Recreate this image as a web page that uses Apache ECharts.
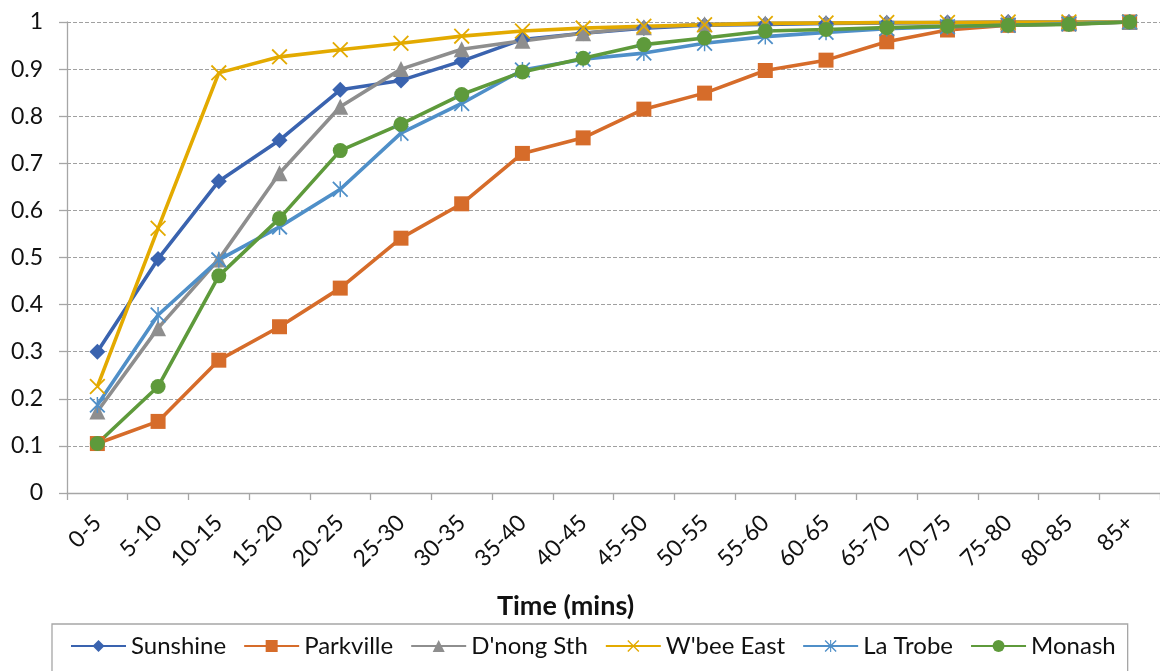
<!DOCTYPE html>
<html><head><meta charset="utf-8">
<script src="https://cdn.jsdelivr.net/npm/echarts@6/dist/echarts.min.js"></script>
<style>html,body{margin:0;padding:0;background:#fff}#c{width:1160px;height:671px}</style>
</head><body><div id="c"></div>
<script>
const categories = ['0-5','5-10','10-15','15-20','20-25','25-30','30-35','35-40','40-45','45-50','50-55','55-60','60-65','65-70','70-75','75-80','80-85','85+'];
const sunshine  = [0.300,0.497,0.662,0.749,0.856,0.876,0.917,0.963,0.976,0.987,0.993,0.995,0.997,0.998,0.999,1,1,1];
const parkville = [0.105,0.152,0.282,0.353,0.435,0.541,0.614,0.721,0.754,0.815,0.849,0.897,0.919,0.958,0.983,0.993,0.996,1];
const dnongSth  = [0.173,0.350,0.496,0.679,0.820,0.900,0.942,0.960,0.976,0.989,0.995,0.997,0.998,0.999,0.999,1,1,1];
const wbeeEast  = [0.226,0.562,0.892,0.926,0.941,0.955,0.970,0.981,0.987,0.991,0.994,0.997,0.998,0.999,0.999,1,1,1];
const laTrobe   = [0.187,0.378,0.495,0.565,0.645,0.764,0.827,0.898,0.921,0.934,0.955,0.969,0.978,0.986,0.990,0.993,0.996,1];
const monash    = [0.105,0.226,0.461,0.583,0.727,0.783,0.846,0.894,0.923,0.952,0.966,0.981,0.984,0.988,0.991,0.993,0.995,1];
const seriesNames = ['Sunshine','Parkville',"D'nong Sth","W'bee East",'La Trobe','Monash'];

const FONT = 'Lato';
const X_PATH = 'path://M0,1.6L1.6,0L20,18.4L18.4,20Z M18.4,0L20,1.6L1.6,20L0,18.4Z';
const AST_PATH = 'path://M0,1.6L1.6,0L20,18.4L18.4,20Z M18.4,0L20,1.6L1.6,20L0,18.4Z M9.1,0L10.9,0L10.9,20L9.1,20Z';
const styles = [
  {color:'#3A63AF', symbol:'diamond', size:16},
  {color:'#D66C2A', symbol:'rect', size:15},
  {color:'#8E8E8E', symbol:'triangle', size:16},
  {color:'#E3AA00', symbol:X_PATH, size:16},
  {color:'#4F8FC8', symbol:AST_PATH, size:16},
  {color:'#5E9A3B', symbol:'circle', size:15}
];
const data = [sunshine, parkville, dnongSth, wbeeEast, laTrobe, monash];

const chart = echarts.init(document.getElementById('c'));
chart.setOption({
  animation:false,
  textStyle:{fontFamily:FONT},
  grid:{left:67, right:-5, top:22, bottom:178, containLabel:false},
  xAxis:{
    type:'category', data:categories, boundaryGap:true,
    name:'Time (mins)', nameLocation:'middle', nameGap:100,
    nameTextStyle:{fontFamily:FONT, fontWeight:'bold', fontSize:27, color:'#111', padding:[0,96,0,0]},
    axisLine:{lineStyle:{color:'#A6A6A6', width:1.3}},
    axisTick:{show:true, length:7, alignWithLabel:false, lineStyle:{color:'#A6A6A6', width:1.3}},
    axisLabel:{rotate:45, fontSize:23, color:'#111', margin:26, fontFamily:FONT, interval:0}
  },
  yAxis:{
    type:'value', min:0, max:1, interval:0.1,
    axisLine:{show:true, lineStyle:{color:'#A6A6A6', width:1.3}},
    axisTick:{show:true, length:8, lineStyle:{color:'#A6A6A6', width:1.3}},
    axisLabel:{fontSize:23, color:'#111', margin:24, fontFamily:FONT,
      formatter:v=>String(Math.round(v*10)/10)},
    splitLine:{show:true, lineStyle:{color:'#A0A0A0', type:[4,2], width:1}}
  },
  legend:{
    left:52, top:624, width:1100,
    padding:[10,12,20,18],
    borderColor:'#A6A6A6', borderWidth:1.3,
    itemWidth:55, itemHeight:15, itemGap:17,
    textStyle:{fontSize:24, color:'#111', fontFamily:FONT},
    data:seriesNames
  },
  series:data.map((d,i)=>({
    name:seriesNames[i], type:'line', data:d,
    symbol:styles[i].symbol, symbolSize:styles[i].size,
    showAllSymbol:true,
    lineStyle:{color:styles[i].color, width:3.6},
    itemStyle:{color:styles[i].color, borderColor:styles[i].color, borderWidth:0},
    emphasis:{disabled:true}
  }))
});
</script></body></html>
